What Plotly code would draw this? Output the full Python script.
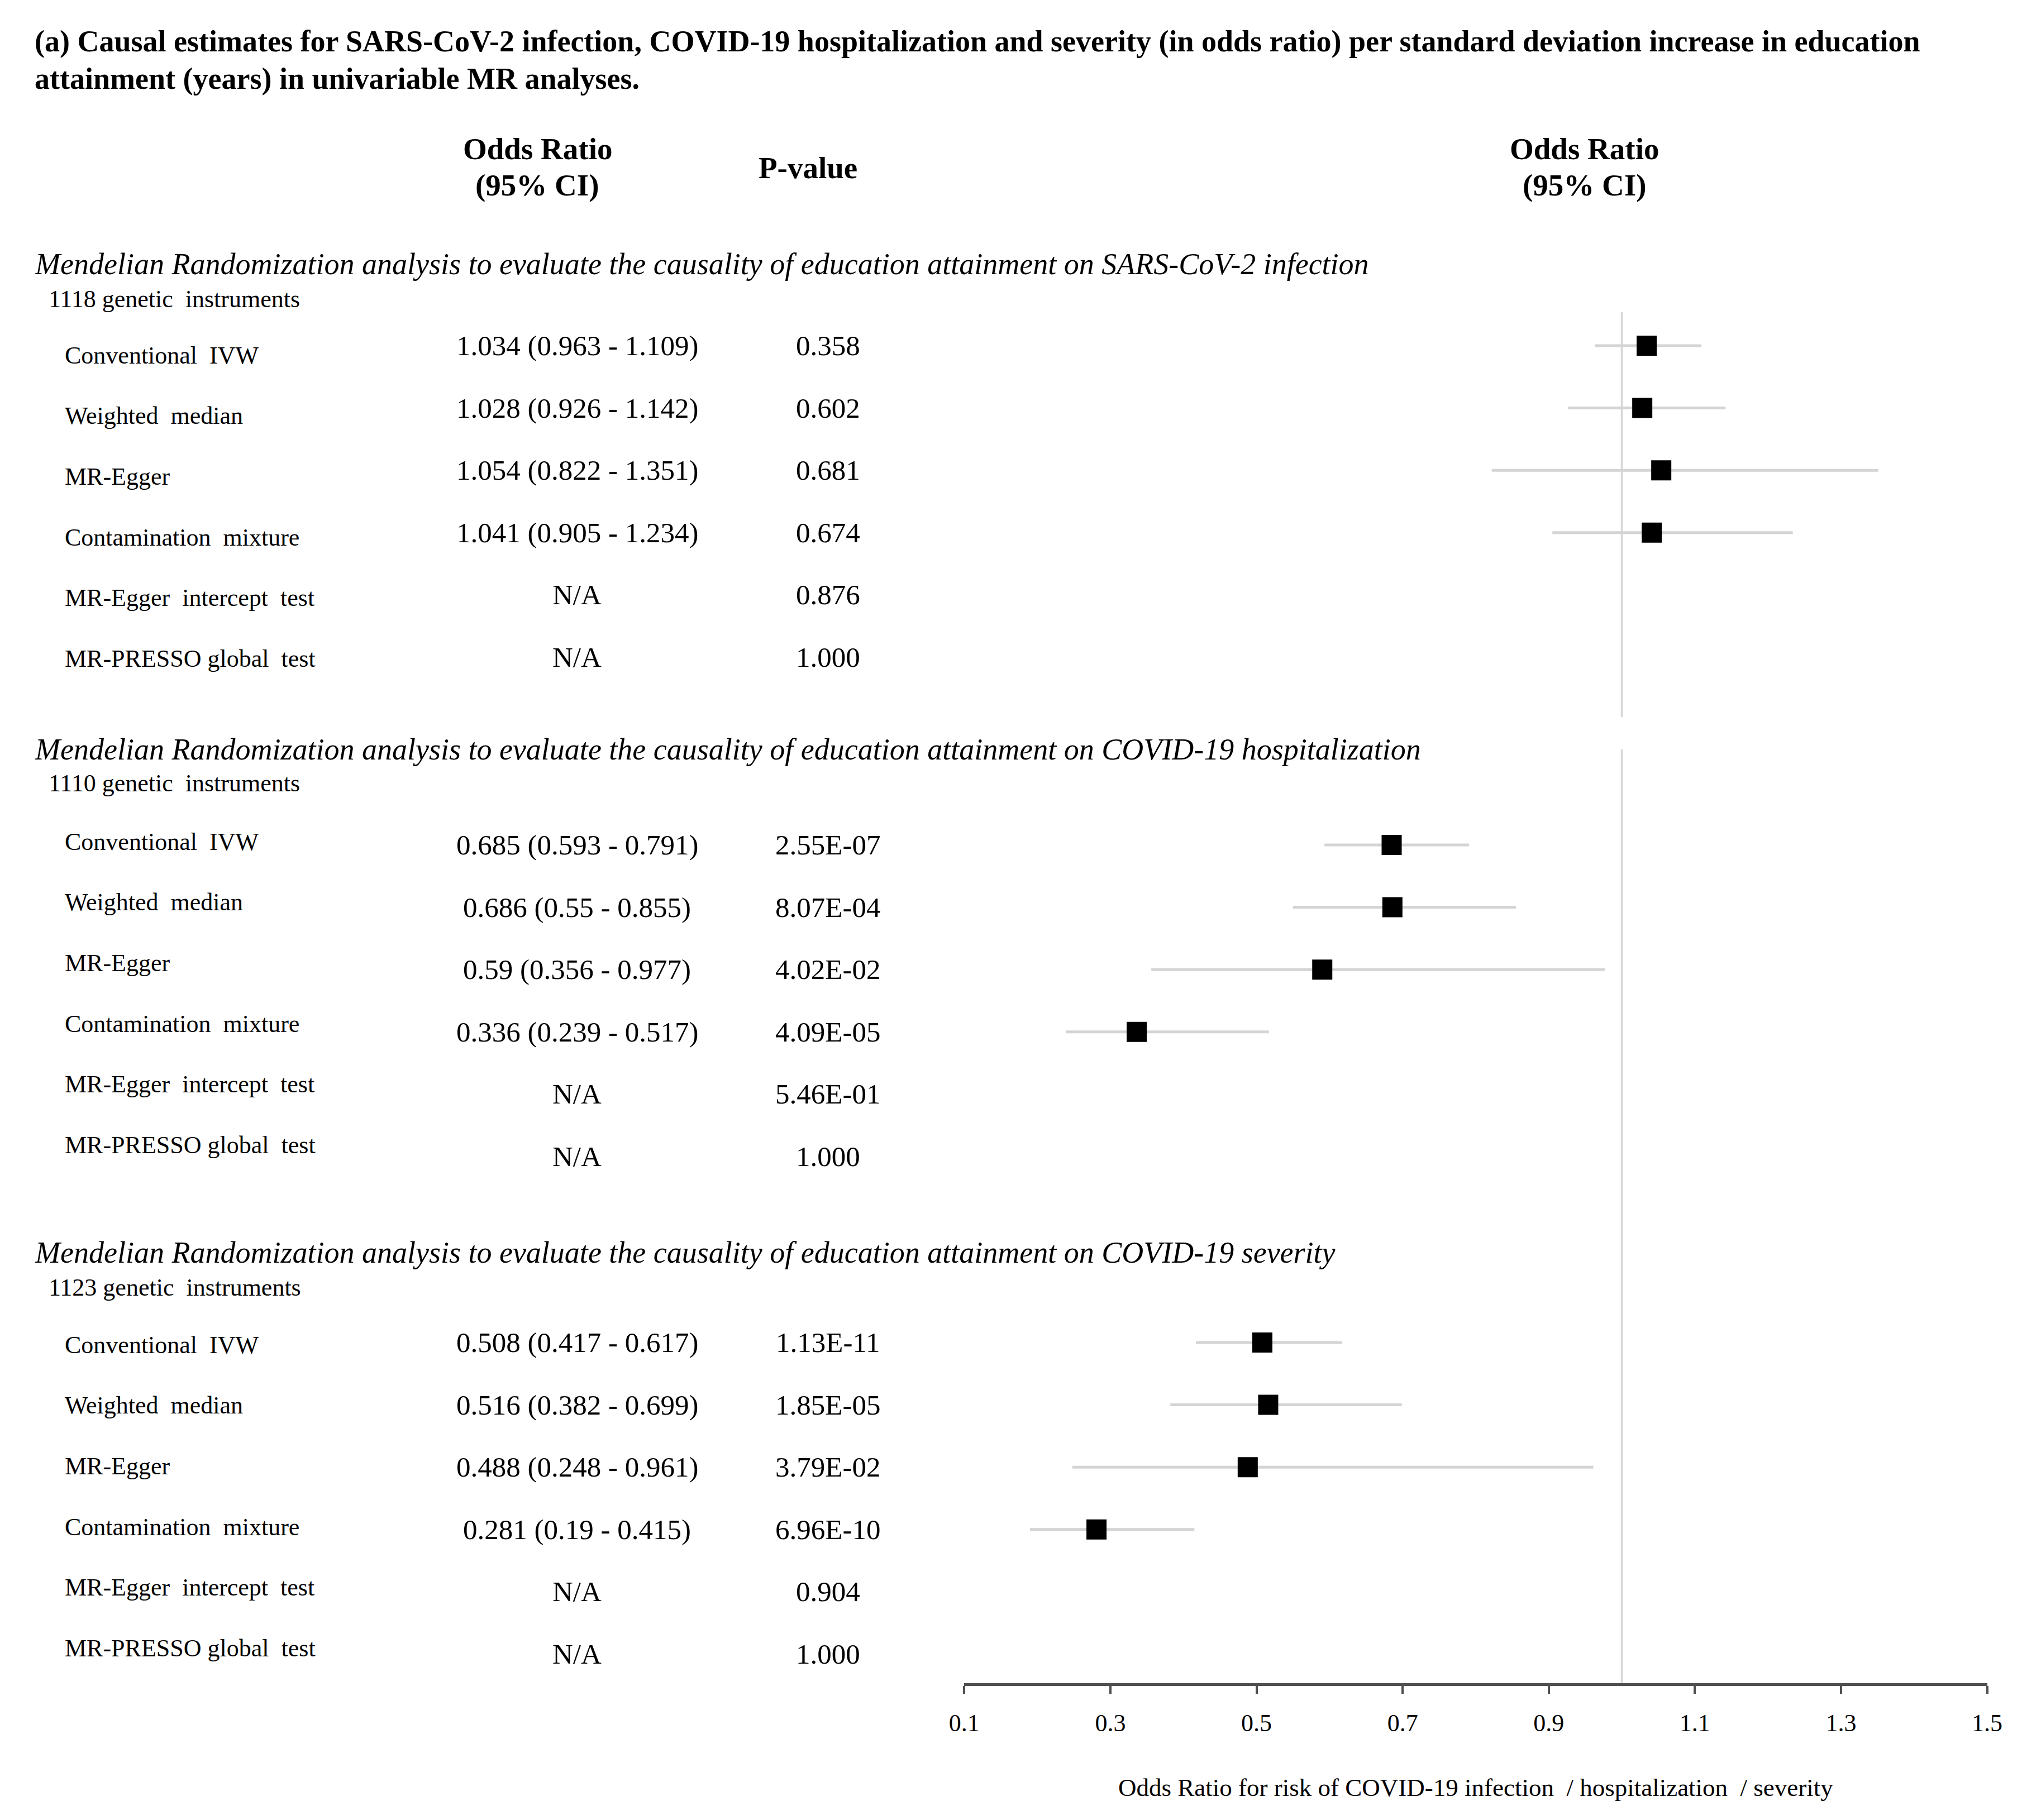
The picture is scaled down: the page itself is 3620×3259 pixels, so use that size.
import plotly.graph_objects as go

# ---------------- data ----------------
title_lines = [
    "(a) Causal estimates for SARS-CoV-2 infection, COVID-19 hospitalization and severity (in odds ratio) per standard deviation increase in education",
    "attainment (years) in univariable MR analyses.",
]
outcomes = ["SARS-CoV-2 infection", "COVID-19 hospitalization", "COVID-19 severity"]
n_instruments = [1118, 1110, 1123]
methods = ["Conventional  IVW", "Weighted  median", "MR-Egger", "Contamination  mixture",
           "MR-Egger  intercept  test", "MR-PRESSO global  test"]

or_infection = [1.034, 1.028, 1.054, 1.041]
lo_infection = [0.963, 0.926, 0.822, 0.905]
hi_infection = [1.109, 1.142, 1.351, 1.234]
p_infection = ["0.358", "0.602", "0.681", "0.674", "0.876", "1.000"]

or_hosp = [0.685, 0.686, 0.59, 0.336]
lo_hosp = [0.593, 0.55, 0.356, 0.239]
hi_hosp = [0.791, 0.855, 0.977, 0.517]
p_hosp = ["2.55E-07", "8.07E-04", "4.02E-02", "4.09E-05", "5.46E-01", "1.000"]

or_sev = [0.508, 0.516, 0.488, 0.281]
lo_sev = [0.417, 0.382, 0.248, 0.19]
hi_sev = [0.617, 0.699, 0.961, 0.415]
p_sev = ["1.13E-11", "1.85E-05", "3.79E-02", "6.96E-10", "0.904", "1.000"]

tick_vals = [0.1, 0.3, 0.5, 0.7, 0.9, 1.1, 1.3, 1.5]
x_title = "Odds Ratio for risk of COVID-19 infection  / hospitalization  / severity"

ors = [or_infection, or_hosp, or_sev]
los = [lo_infection, lo_hosp, lo_sev]
his = [hi_infection, hi_hosp, hi_sev]
ps = [p_infection, p_hosp, p_sev]

# ---------------- layout constants (page pixels) ----------------
W, H = 3620, 3259
FONT = "Liberation Serif"
AXIS_Y = 3014                # y of the axis line
AX_X0, AX_X1 = 1725, 3585    # x of the axis ends

header_y = [473, 1342, 2243]
instr_y = [535, 1402, 2305]
label_y0 = [636, 1507, 2408]
value_y0 = [619, 1513, 2404]
LABEL_PITCH = 108.7
VALUE_PITCH = 111.6
ref_segments = [(559, 1284), (1342, AXIS_Y)]

X_TITLE = 32
X_INSTR = 58
X_LABEL = 87
X_OR = 1021
X_P = 1477


def fx(x):
    return x / W


fig = go.Figure()
ann = []


def text(x, y, s, size, anchor="left", font=FONT):
    ann.append(dict(x=fx(x), y=y, xref="paper", yref="y", text=s, showarrow=False,
                    xanchor=anchor, yanchor="middle",
                    font=dict(family=font, size=size, color="black")))


# title
for i, line in enumerate(title_lines):
    text(X_TITLE, 74 + 67 * i, "<b>" + line + "</b>", 54)

# column headers
for cx in [949, 2853]:
    text(cx, 266, "<b>Odds Ratio</b>", 55, "center")
    text(cx, 331, "<b>(95% CI)</b>", 55, "center")
text(1441, 300, "<b>P-value</b>", 55, "center")

for s, outcome in enumerate(outcomes):
    text(X_TITLE, header_y[s],
         "<i>Mendelian Randomization analysis to evaluate the causality of education attainment on "
         + outcome + "</i>", 54)
    text(X_INSTR, instr_y[s], f"{n_instruments[s]} genetic  instruments", 44)
    vals_y = [value_y0[s] + VALUE_PITCH * i for i in range(len(methods))]
    for i, m in enumerate(methods):
        text(X_LABEL, label_y0[s] + LABEL_PITCH * i, m, 44)
        if i < len(ors[s]):
            txt = f"{ors[s][i]} ({los[s][i]} - {his[s][i]})"
        else:
            txt = "N/A"
        text(X_OR, vals_y[i], txt, 51, "center")
        text(X_P, vals_y[i], ps[s][i], 51, "center")
    n = len(ors[s])
    fig.add_trace(go.Scatter(
        x=ors[s], y=vals_y[:n], mode="markers",
        marker=dict(symbol="square", size=36, color="black"),
        error_x=dict(type="data", symmetric=False,
                     array=[h - o for h, o in zip(his[s], ors[s])],
                     arrayminus=[o - l for o, l in zip(ors[s], los[s])],
                     color="#d4d4d4", thickness=5, width=0),
        showlegend=False, hoverinfo="skip"))

shapes = []
for y0, y1 in ref_segments:
    shapes.append(dict(type="line", xref="x", yref="y", x0=1.0, x1=1.0, y0=y0, y1=y1,
                       line=dict(color="#d6d6d6", width=3.5), layer="below"))

fig.update_layout(
    width=W, height=H,
    margin=dict(l=0, r=0, t=0, b=H - AXIS_Y),
    paper_bgcolor="white", plot_bgcolor="white",
    annotations=ann, shapes=shapes,
    xaxis=dict(domain=[fx(AX_X0), fx(AX_X1)], range=[0.1, 1.5],
               tickvals=tick_vals, ticktext=[f"{v:.1f}" for v in tick_vals],
               showline=True, linecolor="#505050", linewidth=5,
               ticks="outside", ticklen=14, tickwidth=4, tickcolor="#505050",
               ticklabelstandoff=14,
               showgrid=False, zeroline=False,
               tickfont=dict(family=FONT, size=44, color="black"),
               title=dict(text=x_title, font=dict(family=FONT, size=45, color="black"), standoff=77)),
    yaxis=dict(range=[AXIS_Y, 0], visible=False, showgrid=False, zeroline=False),
)

fig.write_html("out.html", config={"displayModeBar": False},
               post_script="document.body.style.margin='0';")
